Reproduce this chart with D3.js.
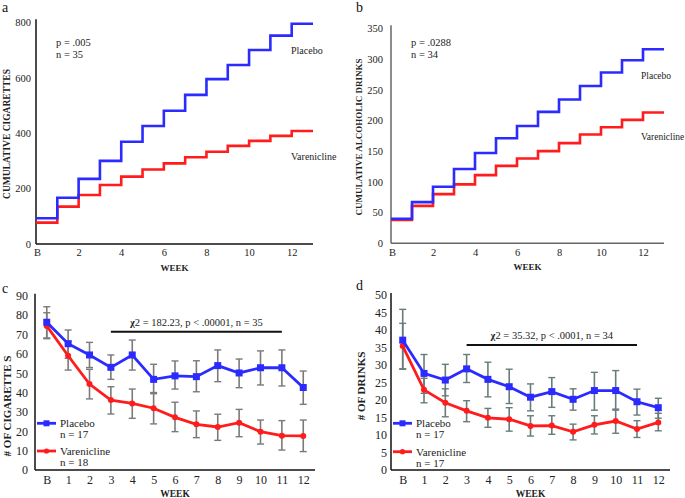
<!DOCTYPE html>
<html><head><meta charset="utf-8">
<script src="https://cdn.jsdelivr.net/npm/d3@7/dist/d3.min.js"></script>
<style>
body{margin:0;background:#fff;}
svg{display:block;}
svg text{font-family:"Liberation Serif","Times New Roman","DejaVu Serif",serif !important;}
</style></head>
<body><svg id="c" width="685" height="498"></svg>
<script>
// ---------- DATA ----------
const weeks = ['B','1','2','3','4','5','6','7','8','9','10','11','12'];
const cumTickLabels = ['B','2','4','6','8','10','12'];

const cumCigPlacebo = [93,167,235,300,369,426,481,538,595,646,700,752,795];
const cumCigVaren   = [77,135,177,213,243,269,291,313,333,354,372,390,408];
const cumDrinkPlacebo = [40,67,92,121,147,171,191,214,234,256,278,298,316];
const cumDrinkVaren   = [38,61,80,96,111,126,138,150,163,177,189,201,213];

const cigPlacebo   = [76.3,65.2,59.4,53.0,59.4,46.8,48.6,48.2,53.9,50.1,52.8,52.8,42.6];
const cigPlaceboLo = [68.2,57.7,52.9,46.8,51.6,39.4,41.8,40.4,45.6,42.5,43.9,43.4,33.9];
const cigPlaceboHi = [84.3,72.3,65.9,59.4,67.1,54.6,56.3,56.4,62.0,57.3,61.5,62.0,51.1];
const cigVaren     = [74.4,59.0,44.4,36.1,34.4,31.9,27.2,23.6,22.2,24.4,19.8,17.7,17.6];
const cigVarenLo   = [67.8,51.6,36.7,28.9,26.7,23.8,19.8,16.7,15.3,17.2,13.4,10.3,9.5];
const cigVarenHi   = [81.2,66.5,52.0,43.0,41.8,40.0,35.0,30.5,28.8,31.3,25.8,25.5,25.8];

const drinkPlacebo   = [37.1,27.6,25.7,28.9,25.9,23.8,20.8,22.4,20.2,22.7,22.7,19.5,17.8];
const drinkPlaceboLo = [28.8,21.9,21.2,25.0,20.9,19.0,16.9,17.9,17.1,17.1,17.1,15.7,14.8];
const drinkPlaceboHi = [45.9,33.0,30.2,33.0,30.8,28.8,24.6,26.4,23.2,27.9,28.4,23.1,20.5];
const drinkVaren     = [35.4,22.9,19.2,16.9,14.9,14.5,12.6,12.7,10.9,12.9,14.0,11.7,13.6];
const drinkVarenLo   = [28.9,19.2,15.2,13.8,12.2,11.1,9.7,10.2,8.6,10.3,10.5,9.3,11.2];
const drinkVarenHi   = [41.9,26.2,23.2,19.8,17.6,17.8,15.5,15.5,13.1,15.5,17.4,14.1,16.2];

const BLUE = "#2b2bff", RED = "#ff1c1c";
const FONT = '"Liberation Serif","Times New Roman","DejaVu Serif",serif';
const svg = d3.select("#c").attr("font-family",FONT);

// ---------- step charts (a, b) ----------
function stepPanel(o){
  const g = svg.append("g");
  const x = d3.scaleLinear().domain([0,13]).range([o.x0,o.x1]);
  const y = d3.scaleLinear().domain([0,o.ymax]).range([o.y0,o.y1]);
  g.append("line").attr("x1",o.x0).attr("x2",o.x0).attr("y1",o.y0).attr("y2",o.y1-3)
    .attr("stroke",o.axisColor).attr("stroke-width",1.5);
  g.append("line").attr("x1",o.x0).attr("x2",o.x1).attr("y1",o.y0).attr("y2",o.y0)
    .attr("stroke",o.axisColor).attr("stroke-width",1.5);
  const ya = g.append("g").attr("transform",`translate(${o.x0},0)`)
    .call(d3.axisLeft(y).tickValues(o.yticks).tickSize(0).tickPadding(o.tpad));
  ya.select(".domain").remove();
  ya.attr("font-family",FONT);
  ya.selectAll("text").attr("font-size",o.tfs).attr("fill","#222");
  const xa = g.append("g").attr("transform",`translate(0,${o.y0})`)
    .call(d3.axisBottom(x).tickValues([0,2,4,6,8,10,12]).tickSize(0).tickPadding(5)
      .tickFormat((d,i)=>cumTickLabels[i]));
  xa.select(".domain").remove();
  xa.attr("font-family",FONT);
  xa.selectAll("text").attr("font-size",o.tfs).attr("fill","#222").attr("dx",(d)=> d===0? 1 : 0);
  const line = d3.line().curve(d3.curveStepAfter).x((d,i)=>x(i)).y(d=>y(d));
  [[o.varen,RED],[o.placebo,BLUE]].forEach(([vals,col])=>{
    const pts = vals.concat([vals[vals.length-1]]);
    g.append("path").attr("d",line(pts)).attr("fill","none").attr("stroke",col).attr("stroke-width",2.6);
  });
  g.append("text").attr("x",o.letterX).attr("y",o.letterY).text(o.letter).attr("font-size",14).attr("fill","#111");
  g.append("text").attr("transform",`translate(${o.ytitleX},${o.ytitleY}) rotate(-90)`)
    .attr("text-anchor","middle").attr("font-weight","bold").attr("font-size",o.ytfs).attr("fill","#222").text(o.ytitle);
  g.append("text").attr("x",(o.x0+o.x1)/2).attr("y",o.y0+27).attr("text-anchor","middle")
    .attr("font-weight","bold").attr("font-size",9).attr("fill","#222").text("WEEK");
  g.append("text").attr("x",o.statX).attr("y",o.statY).attr("font-size",10.5).attr("fill","#222").text(o.stat1);
  g.append("text").attr("x",o.statX).attr("y",o.statY+12).attr("font-size",10.5).attr("fill","#222").text(o.stat2);
  g.append("text").attr("x",o.legX).attr("y",o.plY).attr("font-size",o.legFs).attr("fill","#222").text("Placebo");
  g.append("text").attr("x",o.legX).attr("y",o.vaY).attr("font-size",o.legFs).attr("fill","#222").text("Varenicline");
}

stepPanel({x0:36,x1:313,y0:244,y1:22.3,ymax:800,yticks:[0,200,400,600,800],tpad:5,tfs:10.5,
  axisColor:"#111",placebo:cumCigPlacebo,varen:cumCigVaren,letter:"a",letterX:2,letterY:12,
  ytitle:"CUMULATIVE CIGARETTES",ytitleX:10,ytitleY:134,ytfs:9.5,
  statX:56,statY:46,stat1:"p = .005",stat2:"n = 35",legX:291,plY:54,vaY:160,legFs:10});
stepPanel({x0:391,x1:664,y0:243.3,y1:28.3,ymax:350,yticks:[0,50,100,150,200,250,300,350],tpad:8,tfs:10.5,
  axisColor:"#666",placebo:cumDrinkPlacebo,varen:cumDrinkVaren,letter:"b",letterX:356,letterY:12,
  ytitle:"CUMULATIVE ALCOHOLIC DRINKS",ytitleX:362,ytitleY:137,ytfs:9,
  statX:411,statY:46,stat1:"p = .0288",stat2:"n = 34",legX:641,plY:79,vaY:140,legFs:9.5});

// ---------- line charts with error bars (c, d) ----------
function linePanel(o){
  const g = svg.append("g");
  const x = d3.scalePoint().domain(weeks).range([o.x0,o.x1]).padding(0.55);
  const y = d3.scaleLinear().domain([0,o.ymax]).range([o.y0,o.y1]);
  g.append("line").attr("x1",o.x0).attr("x2",o.x0).attr("y1",o.y0).attr("y2",o.y1-2)
    .attr("stroke","#111").attr("stroke-width",1.5);
  g.append("line").attr("x1",o.x0).attr("x2",o.x1).attr("y1",o.y0).attr("y2",o.y0)
    .attr("stroke","#111").attr("stroke-width",1.5);
  const ya = g.append("g").attr("transform",`translate(${o.x0},0)`)
    .call(d3.axisLeft(y).tickValues(o.yticks).tickSize(0).tickPadding(o.tpad));
  ya.select(".domain").remove();
  ya.attr("font-family",FONT);
  ya.selectAll("text").attr("font-size",12).attr("fill","#222");
  const xa = g.append("g").attr("transform",`translate(0,${o.y0})`)
    .call(d3.axisBottom(x).tickSize(0).tickPadding(5));
  xa.select(".domain").remove();
  xa.attr("font-family",FONT);
  xa.selectAll("text").attr("font-size",12).attr("fill","#222");

  const series = [
    {v:o.varen, lo:o.varenLo, hi:o.varenHi, col:RED, shape:"circle"},
    {v:o.placebo, lo:o.placeboLo, hi:o.placeboHi, col:BLUE, shape:"square"}
  ];
  series.forEach(s=>{
    weeks.forEach((w,i)=>{
      const cx = x(w);
      g.append("line").attr("x1",cx).attr("x2",cx).attr("y1",y(s.lo[i])).attr("y2",y(s.hi[i]))
        .attr("stroke",o.errColor).attr("stroke-width",1.6);
      [s.lo[i],s.hi[i]].forEach(v=>g.append("line").attr("x1",cx-3.5).attr("x2",cx+3.5)
        .attr("y1",y(v)).attr("y2",y(v)).attr("stroke",o.errColor).attr("stroke-width",1.4));
    });
  });
  const line = d3.line().x((d,i)=>x(weeks[i])).y(d=>y(d));
  series.forEach(s=>{
    g.append("path").attr("d",line(s.v)).attr("fill","none").attr("stroke",s.col).attr("stroke-width",2.8);
    s.v.forEach((v,i)=>{
      if(s.shape==="square") g.append("rect").attr("x",x(weeks[i])-3.5).attr("y",y(v)-3.5)
        .attr("width",7).attr("height",7).attr("fill",s.col);
      else g.append("circle").attr("cx",x(weeks[i])).attr("cy",y(v)).attr("r",3).attr("fill",s.col);
    });
  });
  g.append("line").attr("x1",x('3')).attr("x2",x('11')).attr("y1",o.chiY).attr("y2",o.chiY)
    .attr("stroke","#111").attr("stroke-width",2);
  const ct = g.append("text").attr("x",(x('3')+x('11'))/2).attr("y",o.chiY-6).attr("text-anchor","middle")
    .attr("font-size",10.5).attr("fill","#222");
  ct.append("tspan").attr("font-weight","bold").text("χ");
  ct.append("tspan").text(o.chi);
  [[BLUE,"square","Placebo",o.nP,o.legY1],[RED,"circle","Varenicline",o.nV,o.legY2]].forEach(([col,sh,lab,n,ly])=>{
    g.append("line").attr("x1",o.x0+2).attr("x2",o.x0+21).attr("y1",ly).attr("y2",ly).attr("stroke",col).attr("stroke-width",2.8);
    if(sh==="square") g.append("rect").attr("x",o.x0+8.5).attr("y",ly-3).attr("width",6).attr("height",6).attr("fill",col);
    else g.append("circle").attr("cx",o.x0+11.5).attr("cy",ly).attr("r",2.6).attr("fill",col);
    g.append("text").attr("x",o.x0+25).attr("y",ly+4).attr("font-size",11).attr("fill","#222").text(lab);
    g.append("text").attr("x",o.x0+25).attr("y",ly+15).attr("font-size",11).attr("fill","#222").text(n);
  });
  g.append("text").attr("x",o.letterX).attr("y",o.letterY).text(o.letter).attr("font-size",14).attr("fill","#111");
  g.append("text").attr("transform",`translate(${o.ytitleX},${o.ytitleY}) rotate(-90)`)
    .attr("text-anchor","middle").attr("font-weight","bold").attr("font-size",11).attr("fill","#222").text(o.ytitle);
  g.append("text").attr("x",(o.x0+o.x1)/2).attr("y",496.5).attr("text-anchor","middle")
    .attr("font-weight","bold").attr("font-size",9.5).attr("fill","#222").text("WEEK");
}

linePanel({x0:35,x1:315,y0:470,y1:295.7,ymax:90,yticks:d3.range(0,91,10),tpad:7,errColor:"#7a7a7a",
  placebo:cigPlacebo,placeboLo:cigPlaceboLo,placeboHi:cigPlaceboHi,
  varen:cigVaren,varenLo:cigVarenLo,varenHi:cigVarenHi,
  chiY:331.7,chi:"2 = 182.23, p < .00001, n = 35",nP:"n = 17",nV:"n = 18",legY1:423.3,legY2:451,
  letter:"c",letterX:2,letterY:293,ytitle:"# OF CIGARETTE S",ytitleX:11,ytitleY:406});
linePanel({x0:391,x1:670,y0:470,y1:295,ymax:50,yticks:d3.range(0,51,5),tpad:4,errColor:"#687c7c",
  placebo:drinkPlacebo,placeboLo:drinkPlaceboLo,placeboHi:drinkPlaceboHi,
  varen:drinkVaren,varenLo:drinkVarenLo,varenHi:drinkVarenHi,
  chiY:345,chi:"2 = 35.32, p < .0001, n = 34",nP:"n = 17",nV:"n = 17",legY1:423.3,legY2:451.7,
  letter:"d",letterX:356,letterY:290,ytitle:"# OF DRINKS",ytitleX:365,ytitleY:386});
</script></body></html>
